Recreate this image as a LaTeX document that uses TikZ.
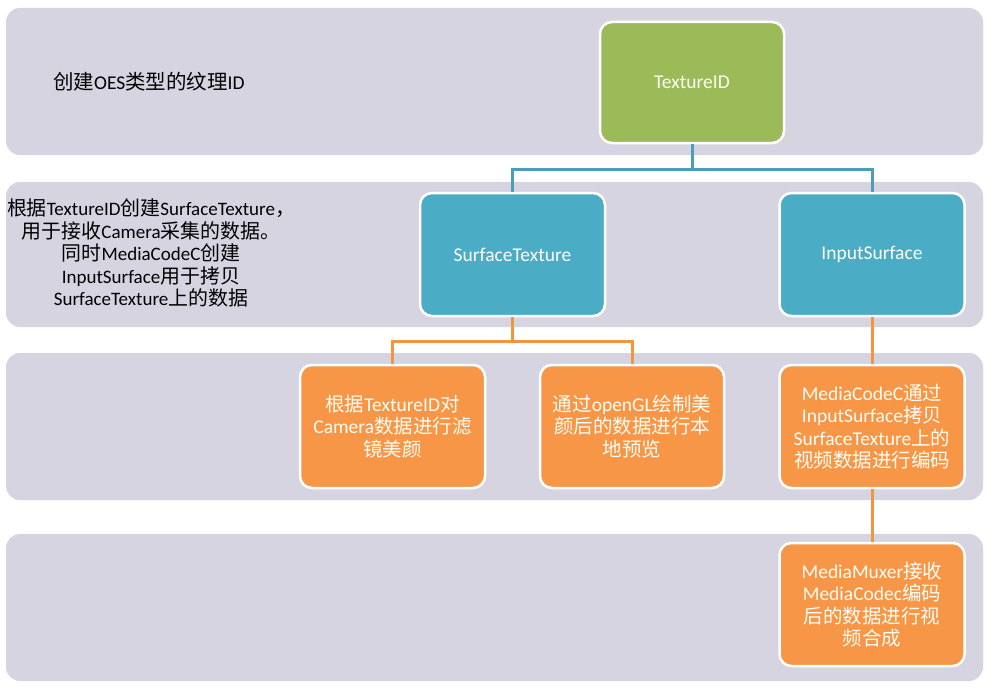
\documentclass[tikz,border=0pt]{standalone}
\usepackage{fontspec}
\setmainfont{Carlito}
\newfontfamily\cjk{Noto Sans CJK SC}
\newfontfamily\cjkl{Noto Sans CJK SC}[Scale=1.05]
\newcommand\zh[1]{{\cjk #1}}
\definecolor{bandc}{HTML}{D7D4E2}
\definecolor{greenc}{HTML}{9BBB59}
\definecolor{bluec}{HTML}{4BACC6}
\definecolor{orangec}{HTML}{F79646}
\definecolor{blinec}{HTML}{4A9EB8}
\definecolor{olinec}{HTML}{F0963F}
\definecolor{boxtext}{HTML}{FFFDF4}
\tikzset{
  band/.style={fill=bandc, rounded corners=14pt},
  box/.style={draw=white, line width=2.5pt, rounded corners=12pt, text=boxtext,
    align=center, minimum width=185pt, minimum height=123pt, inner sep=0pt,
    font=\fontsize{19.5}{22.5}\selectfont},
  gbox/.style={box, fill=greenc, minimum width=184pt, minimum height=121pt},
  bbox/.style={box, fill=bluec},
  obox/.style={box, fill=orangec},
  bline/.style={draw=blinec, line width=3pt},
  oline/.style={draw=olinec, line width=3pt},
  lbl/.style={text=black, align=center, inner sep=0pt,
    font={\fontsize{19}{22.5}\selectfont\let\cjk\cjkl}}
}
\begin{document}
\begin{tikzpicture}[x=1pt,y=-1pt]
\useasboundingbox (0,0) rectangle (996,693);
\fill[white] (0,0) rectangle (996,693);
% bands
\fill[band] (6,8) rectangle (983,155);
\fill[band] (6,182) rectangle (983,327);
\fill[band] (6,353) rectangle (983,500);
\fill[band] (6,534) rectangle (983,681);
% band labels
\node[lbl, anchor=west, font={\fontsize{19.5}{22.5}\selectfont\let\cjk\cjkl}] (l1) at (53,82) {\zh{创建}OES\zh{类型的纹理}ID};
\node[lbl] (l2) at (151,253) {\zh{根据}TextureID\zh{创建}SurfaceTexture\zh{，}\\
 \zh{用于接收}Camera\zh{采集的数据。}\\
 \zh{同时}MediaCodeC\zh{创建}\\
 InputSurface\zh{用于拷贝}\\
 SurfaceTexture\zh{上的数据}};
% nodes
\node[gbox] (tex) at (692,82.5) {TextureID};
\node[bbox] (st) at (512.5,254.5) {SurfaceTexture};
\node[bbox] (is) at (872,254.5) {InputSurface};
\node[obox] (o1) at (392.5,426.5) {\zh{根据}TextureID\zh{对}\\Camera\zh{数据进行滤}\\\zh{镜美颜}};
\node[obox, minimum width=184pt] (o2) at (632,426.5) {\zh{通过}openGL\zh{绘制美}\\\zh{颜后的数据进行本}\\\zh{地预览}};
\node[obox] (o3) at (872,426.5) {MediaCodeC\zh{通过}\\InputSurface\zh{拷贝}\\SurfaceTexture\zh{上的}\\\zh{视频数据进行编码}};
\node[obox] (o4) at (872,604.5) {MediaMuxer\zh{接收}\\MediaCodec\zh{编码}\\\zh{后的数据进行视}\\\zh{频合成}};
% connectors
\coordinate (j1) at (692,169);
\coordinate (j2) at (512.5,341);
\draw[bline] (tex.south) -- (j1) -| (st.north);
\draw[bline] (j1) -| (is.north);
\draw[oline] (st.south) -- (j2) -| (o1.north);
\draw[oline] (j2) -| (o2.north);
\draw[oline] (is.south) -- (o3.north);
\draw[oline] (o3.south) -- (o4.north);
\end{tikzpicture}
\end{document}
